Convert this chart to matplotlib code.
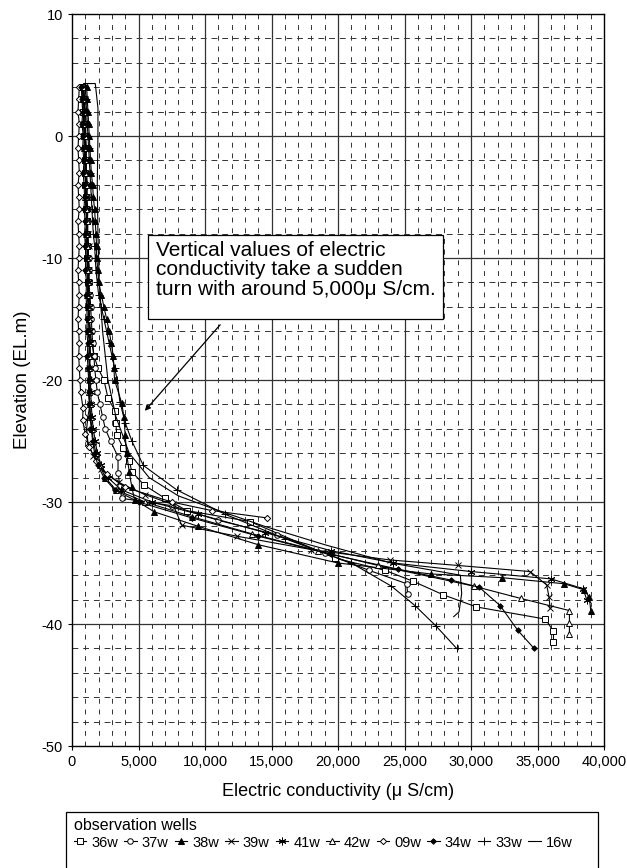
import matplotlib
matplotlib.use('Agg')
import matplotlib.pyplot as plt
from matplotlib.patches import Rectangle

plt.rcParams['font.family'] = ['Liberation Sans', 'DejaVu Sans']
plt.rcParams['axes.unicode_minus'] = False  # plain hyphen on negative ticks

# common sampling depths in the upper part of each profile (EL.m)
elev_top = [4, 3, 2, 1, 0, -1, -2, -3, -4, -5, -6, -7, -8, -9, -10,
            -11, -12, -13, -14, -15, -16, -17, -18, -19, -20]

# 36w
ec_36w = [750, 800, 850, 900, 900, 950, 950, 1000, 1000, 1050, 1050, 1100, 1100,
          1150, 1150, 1200, 1200, 1250, 1250, 1300, 1350, 1500, 1650, 1950, 2400,
          2710, 3230, 3300, 3360, 3860, 4310, 4490, 5410, 7000, 8620, 13380, 19780,
          23530, 25650, 27900, 30400, 35600, 36200, 36200]
el_36w = elev_top + [-21.5, -22.5, -23.5, -24.5, -25.6, -26.6, -27.5, -28.6, -29.7,
                     -30.7, -31.6, -34.6, -35.6, -36.5, -37.6, -38.6, -39.6, -40.6, -41.5]

# 37w
ec_37w = [800, 900, 950, 1000, 1050, 1000, 1100, 1050, 1100, 1150, 1100, 1200, 1150,
          1200, 1250, 1300, 1250, 1350, 1400, 1450, 1500, 1550, 1650, 1700, 1800,
          1900, 2100, 2300, 2500, 2900, 3460, 3460, 3600, 3730, 7500, 11000, 15390,
          19000, 22330, 25170, 25230]
el_37w = elev_top + [-21, -22, -23, -24, -25, -26.3, -27.6, -28.7, -29.7, -30.3,
                     -31.5, -32.7, -34.2, -35.6, -36.7, -37.5]

# 38w
ec_38w = [1100, 1150, 1200, 1250, 1300, 1350, 1400, 1450, 1550, 1600, 1700, 1750, 1800,
          1850, 1850, 1950, 2000, 2200, 2400, 2600, 2800, 2950, 3100, 3150, 3200,
          3740, 3900, 4000, 4100, 4300, 4500, 4700, 6170, 9500, 14000, 20000, 27000,
          32300, 37000, 38500, 38900, 39000]
el_38w = elev_top + [-21.9, -23, -24.5, -26, -27.5, -28.8, -29.8, -30.8, -32, -33.5,
                     -35, -35.9, -36.2, -36.7, -37.2, -37.8, -38.9]

# 39w
ec_39w = [900, 950, 1000, 1050, 1000, 1100, 1050, 1100, 1150, 1100, 1200, 1150, 1200,
          1250, 1200, 1300, 1250, 1300, 1350, 1300, 1400, 1350, 1400, 1300, 1250,
          1250, 1350, 1200, 1100, 1200, 1600, 2200, 3500, 5500, 7600, 8250, 12380,
          18000, 23900, 29000, 34440, 35690, 35870, 35940]
el_39w = elev_top + [-21, -22, -23, -24, -25.2, -26.2, -27.3, -28.4, -29.4, -30.2,
                     -31.9, -32.8, -33.9, -34.75, -35.2, -35.7, -36.8, -37.8, -38.7]

# 41w
ec_41w = [850, 900, 950, 900, 1000, 950, 1050, 1000, 1100, 1050, 1100, 1150, 1100,
          1200, 1150, 1200, 1250, 1200, 1300, 1250, 1300, 1350, 1300, 1350, 1400,
          1400, 1450, 1500, 1600, 1750, 1900, 2200, 2700, 3700, 6000, 9500, 14500,
          19500, 24150, 30000, 36000, 38430, 38700]
el_41w = elev_top + [-21, -22, -23, -24, -25, -26, -27, -28, -29, -30, -31, -32.5,
                     -34, -35, -35.7, -36.3, -37.1, -38]

# 42w
ec_42w = [800, 850, 900, 850, 950, 900, 1000, 950, 1050, 1000, 1050, 1100, 1050,
          1100, 1150, 1100, 1200, 1150, 1200, 1250, 1200, 1300, 1250, 1300, 1350,
          1300, 1350, 1400, 1500, 1600, 1800, 2100, 2500, 3300, 5500, 9000, 13500,
          18500, 23000, 30220, 33730, 37400, 37400, 37400]
el_42w = elev_top + [-21, -22, -23, -24, -25, -26, -27, -28, -29, -30, -31.2, -32.6,
                     -34, -35.2, -36.9, -37.9, -38.9, -39.9, -40.8]

# 09w
ec_09w = [550, 500, 450, 550, 500, 450, 500, 550, 450, 500, 550, 450, 500, 550, 500,
          450, 500, 550, 500, 450, 500, 550, 500, 550, 600,
          650, 830, 800, 1000, 1300, 1800, 2600, 4000, 7500, 10500, 14640]
el_09w = elev_top + [-21, -22.3, -23.3, -24.4, -25.5, -26.6, -27.7, -28.8, -30,
                     -30.7, -31.3]

# 34w
ec_34w = [700, 750, 800, 750, 850, 800, 900, 850, 900, 950, 900, 1000, 950, 1000,
          1050, 1000, 1100, 1050, 1100, 1150, 1100, 1200, 1150, 1200, 1250,
          1250, 1300, 1350, 1450, 1550, 1700, 1950, 2400, 3200, 5000, 9000, 14000,
          19500, 24500, 28500, 30630, 32200, 33500, 34740]
el_34w = elev_top + [-21, -22, -23, -24, -25, -26, -27, -28, -29, -30, -31.3, -32.8,
                     -34.3, -35.5, -36.4, -37, -38.5, -40.5, -42]

# 33w
ec_33w = [1000, 1050, 1100, 1150, 1200, 1250, 1300, 1350, 1400, 1450, 1500, 1550, 1600,
          1700, 1750, 1800, 1900, 2000, 2200, 2400, 2600, 2800, 3000, 3200, 3400,
          3600, 4000, 4500, 5360, 7870, 11500, 16000, 21000, 24020, 25800, 27400, 28920]
el_33w = elev_top + [-21.8, -23.5, -25, -27, -29, -31, -33, -35, -36.9, -38.5,
                     -40.2, -42]

# 16w (no markers)
ec_16w = [900, 1750, 1950, 1950, 1900, 1950, 2050, 2300, 2700, 3300, 4300, 5800,
          8000, 10500, 14500, 19000, 24000, 29200, 29300, 29100, 28700]
el_16w = [4.3, 4.3, 2.3, 0, -4, -8, -12, -16, -20, -23, -26, -28, -29.5, -30.5,
          -32, -33.5, -35, -36, -37.5, -39, -39.4]

wells = ['36w', '37w', '38w', '39w', '41w', '42w', '09w', '34w', '33w', '16w']
ec_all = [ec_36w, ec_37w, ec_38w, ec_39w, ec_41w, ec_42w, ec_09w, ec_34w, ec_33w, ec_16w]
el_all = [el_36w, el_37w, el_38w, el_39w, el_41w, el_42w, el_09w, el_34w, el_33w, el_16w]

# marker, filled?, size
styles = [('s', False, 4), ('o', False, 4), ('^', True, 4), ('x', False, 4.5),
          ((6, 2, 0), False, 5.5), ('^', False, 4), ('D', False, 3.2),
          ('D', True, 2.8), ('+', False, 5.5), (None, False, 0)]

x_ticks = [0, 5000, 10000, 15000, 20000, 25000, 30000, 35000, 40000]
x_tick_labels = ['0', '5,000', '10,000', '15,000', '20,000', '25,000', '30,000',
                 '35,000', '40,000']
y_ticks = [10, 0, -10, -20, -30, -40, -50]

W, H = 627, 868
fig = plt.figure(figsize=(W / 100, H / 100), dpi=100)
ax = fig.add_axes([72 / W, 1 - 746 / H, (604 - 72) / W, (746 - 14) / H])

ax.set_xlim(0, 40000)
ax.set_ylim(-50, 10)

# grid: solid major, dashed minor
for x in range(1000, 40000, 1000):
    if x % 5000 == 0:
        ax.axvline(x, color='#333333', lw=0.9, zorder=0)
    else:
        ax.axvline(x, color='#333333', lw=0.7, ls=(0, (5, 6)), zorder=0)
for y in range(-48, 10, 2):
    if y % 10 == 0:
        ax.axhline(y, color='#333333', lw=0.9, zorder=0)
    else:
        ax.axhline(y, color='#333333', lw=0.7, ls=(0, (6, 5)), zorder=0)

handles = []
for name, ec, el, st in zip(wells, ec_all, el_all, styles):
    mk, filled, ms = st
    line, = ax.plot(ec, el, color='black', lw=0.8, marker=mk, ms=ms,
                    mfc='black' if filled else 'white', mec='black', mew=0.7,
                    label=name, zorder=3)
    handles.append(line)

ax.set_xticks(x_ticks)
ax.set_xticklabels(x_tick_labels)
ax.set_yticks(y_ticks)
ax.tick_params(direction='out', length=3, width=0.8, labelsize=10.5, colors='black')
for s in ax.spines.values():
    s.set_linewidth(1.0)
    s.set_color('black')

ax.set_xlabel('Electric conductivity (\u03bc S/cm)', fontsize=13, labelpad=10)
ax.set_ylabel('Elevation (EL.m)', fontsize=13.5, labelpad=8)

# annotation box with arrow
ax.add_patch(Rectangle((5714, -15.0), 27900 - 5714, 6.9, facecolor='white',
                       edgecolor='black', lw=0.9, zorder=4))
ax.text(6300, -8.6, 'Vertical values of electric\nconductivity take a sudden\n'
        'turn with around 5,000\u03bc S/cm.', fontsize=15, va='top', ha='left',
        linespacing=1.02, zorder=5)
ax.annotate('', xy=(5340, -22.7), xytext=(11280, -15.3),
            arrowprops=dict(arrowstyle='-|>', color='black', lw=0.9,
                            mutation_scale=8), zorder=5)

# legend box
fig.patches.append(Rectangle((66 / W, -0.01), (598 - 66) / W, 1 - 812 / H + 0.01,
                             transform=fig.transFigure, facecolor='white',
                             edgecolor='black', lw=0.9))
leg = fig.legend(handles=handles, loc='upper left',
                 bbox_to_anchor=(62 / W, 1 - 806 / H), ncol=10, frameon=False,
                 title='observation wells', title_fontsize=11.5, fontsize=10.5,
                 handlelength=0.85, handletextpad=0.35, columnspacing=0.42,
                 borderpad=0.3, labelspacing=0.2, alignment='left')

fig.savefig('out.png', dpi=100)
